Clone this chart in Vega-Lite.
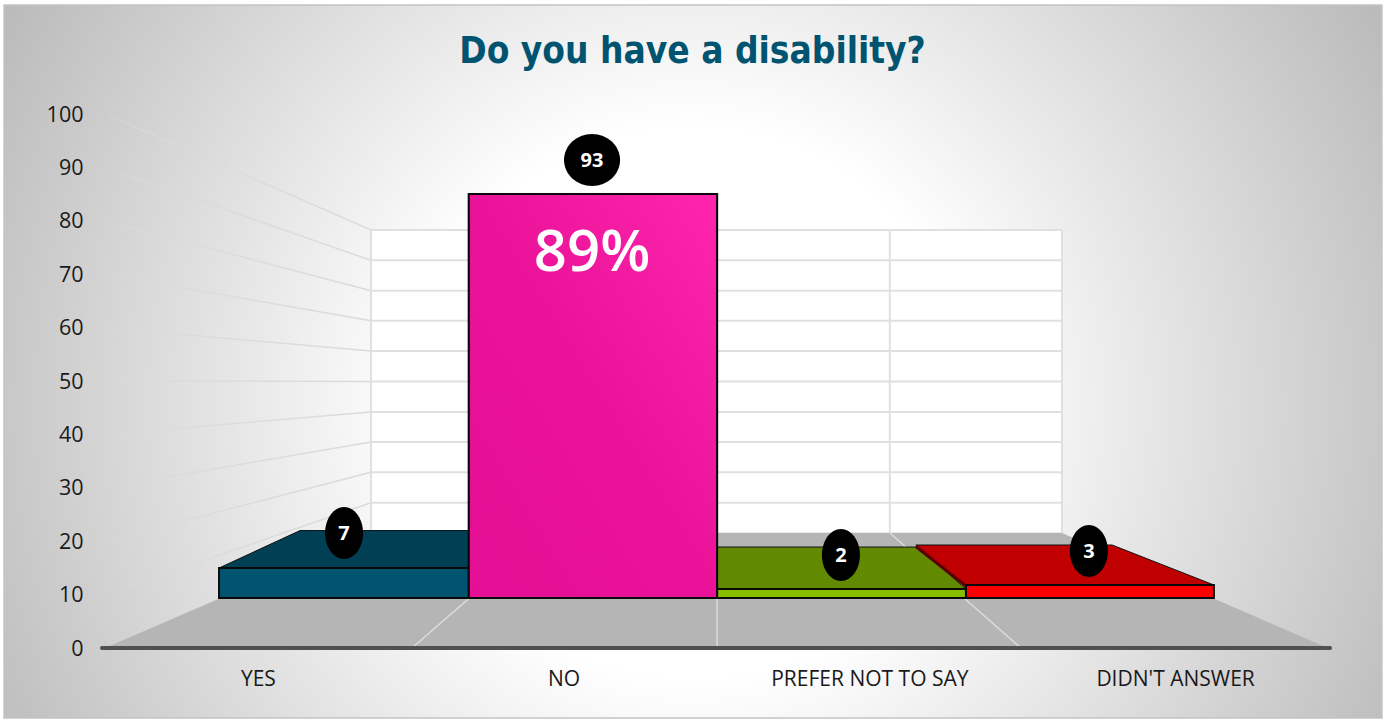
{
"$schema":"https://vega.github.io/schema/vega-lite/v6.json",
"width":1387,"height":720,"padding":0,"autosize":{"type":"none"},
"background":"#ffffff",
"config":{"view":{"stroke":null}},
"title":{"text":"Do you have a disability?","font":"DejaVu Sans Condensed","fontWeight":"bold","fontSize":36.7,"color":"#005470","anchor":"middle","frame":"group","baseline":"alphabetic","dy":100,"dx":-1,"offset":0},
"datasets":{
"bars":[
{"category":"YES","count":7,"share":"","left":0.373,"right":1.19,"base":9.36,"top":14.98,"labelX":0.782,"labelY":21.54},
{"category":"NO","count":93,"share":"89%","left":1.19,"right":2.002,"base":9.36,"top":85.02,"labelX":1.593,"labelY":91.39},
{"category":"PREFER NOT TO SAY","count":2,"share":"","left":2.002,"right":2.816,"base":9.36,"top":11.05,"labelX":2.407,"labelY":17.42},
{"category":"DIDN'T ANSWER","count":3,"share":"","left":2.816,"right":3.627,"base":9.36,"top":11.8,"labelX":3.218,"labelY":18.16}
],
"tops":[
{"category":"YES","x":0.373,"back":14.98,"front":14.98},
{"category":"YES","x":0.638,"back":22.0,"front":14.98},
{"category":"YES","x":1.19,"back":22.0,"front":14.98},
{"category":"PREFER NOT TO SAY","x":2.002,"back":18.91,"front":11.05},
{"category":"PREFER NOT TO SAY","x":2.66,"back":18.91,"front":11.05},
{"category":"PREFER NOT TO SAY","x":2.816,"back":11.05,"front":11.05},
{"category":"DIDN'T ANSWER","x":2.652,"back":19.29,"front":19.29},
{"category":"DIDN'T ANSWER","x":2.816,"back":19.29,"front":11.8},
{"category":"DIDN'T ANSWER","x":3.294,"back":19.29,"front":11.8},
{"category":"DIDN'T ANSWER","x":3.627,"back":11.8,"front":11.8}
],
"grid":[
{"tick":0,"wall":21.5},{"tick":10,"wall":27.2},{"tick":20,"wall":32.9},{"tick":30,"wall":38.6},{"tick":40,"wall":44.2},{"tick":50,"wall":49.9},{"tick":60,"wall":55.6},{"tick":70,"wall":61.3},{"tick":80,"wall":66.9},{"tick":90,"wall":72.6},{"tick":100,"wall":78.3}
],
"side":[
{"tick":100,"x":0,"y":100},{"tick":100,"x":0.87,"y":78.3},
{"tick":90,"x":0,"y":90},{"tick":90,"x":0.87,"y":72.6},
{"tick":80,"x":0,"y":80},{"tick":80,"x":0.87,"y":66.9},
{"tick":70,"x":0,"y":70},{"tick":70,"x":0.87,"y":61.3},
{"tick":60,"x":0,"y":60},{"tick":60,"x":0.87,"y":55.6},
{"tick":50,"x":0,"y":50},{"tick":50,"x":0.87,"y":49.9},
{"tick":40,"x":0,"y":40},{"tick":40,"x":0.87,"y":44.2},
{"tick":30,"x":0,"y":30},{"tick":30,"x":0.87,"y":38.6},
{"tick":20,"x":0,"y":20},{"tick":20,"x":0.87,"y":32.9},
{"tick":10,"x":0,"y":10},{"tick":10,"x":0.87,"y":27.2}
]
},
"layer":[
{"data":{"values":[{"left":-0.3303,"right":4.1766,"low":-13.11,"high":120.41}]},
 "mark":{"type":"rect","stroke":"#c4c4c4","strokeWidth":1.5,"fill":{"gradient":"radial","x1":0.5,"y1":0.53,"r1":0,"x2":0.5,"y2":0.53,"r2":0.57,"stops":[{"offset":0,"color":"#ffffff"},{"offset":0.35,"color":"#ffffff"},{"offset":1,"color":"#bbbbbb"}]}},
 "encoding":{
  "x":{"field":"left","type":"quantitative","scale":{"domain":[-0.3434,4.1931],"nice":false,"zero":false},
   "axis":{"title":null,"values":[0.5,1.5,2.5,3.5],"labelExpr":"datum.value==0.5?'YES':datum.value==1.5?'NO':datum.value==2.5?'PREFER NOT TO SAY':\"DIDN'T ANSWER\"","offset":-72,"domain":false,"ticks":false,"grid":false,"labelFont":"Open Sans","labelFontSize":21,"labelColor":"#1a1a1a","labelPadding":20,"labelBaseline":"top","labelOverlap":false,"labelFlush":false,"labelLimit":0,"zindex":1}},
  "x2":{"field":"right"},
  "y":{"field":"low","type":"quantitative","scale":{"domain":[-13.48,121.35],"nice":false,"zero":false},
   "axis":{"title":null,"values":[0,10,20,30,40,50,60,70,80,90,100],"offset":-83,"domain":false,"ticks":false,"grid":false,"labelFont":"Open Sans","labelFontSize":21.5,"labelColor":"#1a1a1a","labelPadding":0,"labelOffset":1,"labelOverlap":false,"labelFlush":false,"zindex":1}},
  "y2":{"field":"high"}}},
{"data":{"values":[{"left":0.87,"right":3.13,"low":21.54,"high":78.28}]},
 "mark":{"type":"rect","fill":"#ffffff"},
 "encoding":{"x":{"field":"left","type":"quantitative"},"x2":{"field":"right"},"y":{"field":"low","type":"quantitative"},"y2":{"field":"high"}}},
{"data":{"name":"grid"},
 "mark":{"type":"rule","color":"#e0e0e0","strokeWidth":2},
 "encoding":{"x":{"datum":0.87,"type":"quantitative"},"x2":{"datum":3.13},"y":{"field":"wall","type":"quantitative"}}},
{"data":{"values":[{"x":0.87},{"x":2.567},{"x":3.13}]},
 "mark":{"type":"rule","color":"#e0e0e0","strokeWidth":2},
 "encoding":{"x":{"field":"x","type":"quantitative"},"y":{"datum":21.54,"type":"quantitative"},"y2":{"datum":78.28}}},
{"data":{"name":"side"},
 "mark":{"type":"line","strokeWidth":1.5,"stroke":{"gradient":"linear","x1":0,"y1":0,"x2":1,"y2":0,"stops":[{"offset":0,"color":"rgba(218,218,218,0)"},{"offset":0.1,"color":"rgba(218,218,218,0.7)"},{"offset":1,"color":"#dadada"}]}},
 "encoding":{"x":{"field":"x","type":"quantitative"},"y":{"field":"y","type":"quantitative"},"detail":{"field":"tick"}}},
{"data":{"values":[{"x":0,"back":0,"front":0},{"x":0.87,"back":21.54,"front":0},{"x":3.13,"back":21.54,"front":0},{"x":4,"back":0,"front":0}]},
 "mark":{"type":"area","color":"#b5b5b5"},
 "encoding":{"x":{"field":"x","type":"quantitative"},"y":{"field":"back","type":"quantitative"},"y2":{"field":"front"}}},
{"data":{"values":[{"rear":1.436,"near":1.004},{"rear":2.002,"near":2.002},{"rear":2.567,"near":2.996}]},
 "mark":{"type":"rule","color":"#dcdcdc","strokeWidth":1.5},
 "encoding":{"x":{"field":"rear","type":"quantitative"},"x2":{"field":"near"},"y":{"datum":21.54,"type":"quantitative"},"y2":{"datum":0}}},
{"data":{"values":[{"from":-0.01,"to":4.007,"y":0}]},
 "mark":{"type":"rule","color":"#505050","strokeWidth":4,"strokeCap":"round"},
 "encoding":{"x":{"field":"from","type":"quantitative"},"x2":{"field":"to"},"y":{"field":"y","type":"quantitative"}}},
{"data":{"name":"tops"},
 "mark":{"type":"area","stroke":"#111111","strokeWidth":1},
 "encoding":{"x":{"field":"x","type":"quantitative"},"y":{"field":"back","type":"quantitative"},"y2":{"field":"front"},"detail":{"field":"category"},
  "fill":{"field":"category","type":"nominal","legend":null,"scale":{"domain":["YES","NO","PREFER NOT TO SAY","DIDN'T ANSWER"],"range":["#003f54","#c00f80","#628a00","#c00000"]}}}},
{"data":{"values":[{"x":2.652,"y":19.0},{"x":2.816,"y":11.6}]},
 "mark":{"type":"line","color":"#5c0000","strokeWidth":3},
 "encoding":{"x":{"field":"x","type":"quantitative"},"y":{"field":"y","type":"quantitative"}}},
{"data":{"name":"bars"},
 "mark":{"type":"rect","stroke":"#0a0a0a","strokeWidth":2},
 "encoding":{"x":{"field":"left","type":"quantitative"},"x2":{"field":"right"},"y":{"field":"base","type":"quantitative"},"y2":{"field":"top"},
  "color":{"field":"category","type":"nominal","legend":null,"scale":{"domain":["YES","NO","PREFER NOT TO SAY","DIDN'T ANSWER"],"range":["#005470","#e9129b","#86be00","#ff0000"]}}}},
{"data":{"name":"bars"},"transform":[{"filter":"datum.category=='NO'"}],
 "mark":{"type":"rect","stroke":"#0a0a0a","strokeWidth":2,"fill":{"gradient":"linear","x1":0,"y1":1,"x2":1,"y2":0,"stops":[{"offset":0,"color":"#e40f94"},{"offset":0.5,"color":"#ea1299"},{"offset":1,"color":"#ff25ae"}]}},
 "encoding":{"x":{"field":"left","type":"quantitative"},"x2":{"field":"right"},"y":{"field":"base","type":"quantitative"},"y2":{"field":"top"}}},
{"data":{"name":"bars"},
 "mark":{"type":"point","filled":true,"fill":"#000000","stroke":null,"opacity":1,"size":2704},
 "encoding":{"x":{"field":"labelX","type":"quantitative"},"y":{"field":"labelY","type":"quantitative"},
  "shape":{"condition":{"test":"datum.count>=10","value":"M-1.077,0A1.077,1 0 1,1 1.077,0A1.077,1 0 1,1 -1.077,0Z"},"value":"M-0.731,0A0.731,1 0 1,1 0.731,0A0.731,1 0 1,1 -0.731,0Z"}}},
{"data":{"name":"bars"},
 "mark":{"type":"text","font":"Open Sans","fontWeight":"bold","fontSize":20,"color":"#ffffff","align":"center","baseline":"middle","dy":1},
 "encoding":{"x":{"field":"labelX","type":"quantitative"},"y":{"field":"labelY","type":"quantitative"},"text":{"field":"count","type":"quantitative"}}},
{"data":{"name":"bars"},"transform":[{"filter":"datum.share!=''"}],
 "mark":{"type":"text","font":"Open Sans","fontWeight":600,"fontSize":58,"color":"#ffffff","align":"center","baseline":"middle"},
 "encoding":{"x":{"field":"labelX","type":"quantitative"},"y":{"datum":73.8,"type":"quantitative"},"text":{"field":"share","type":"nominal"}}}
]
}
